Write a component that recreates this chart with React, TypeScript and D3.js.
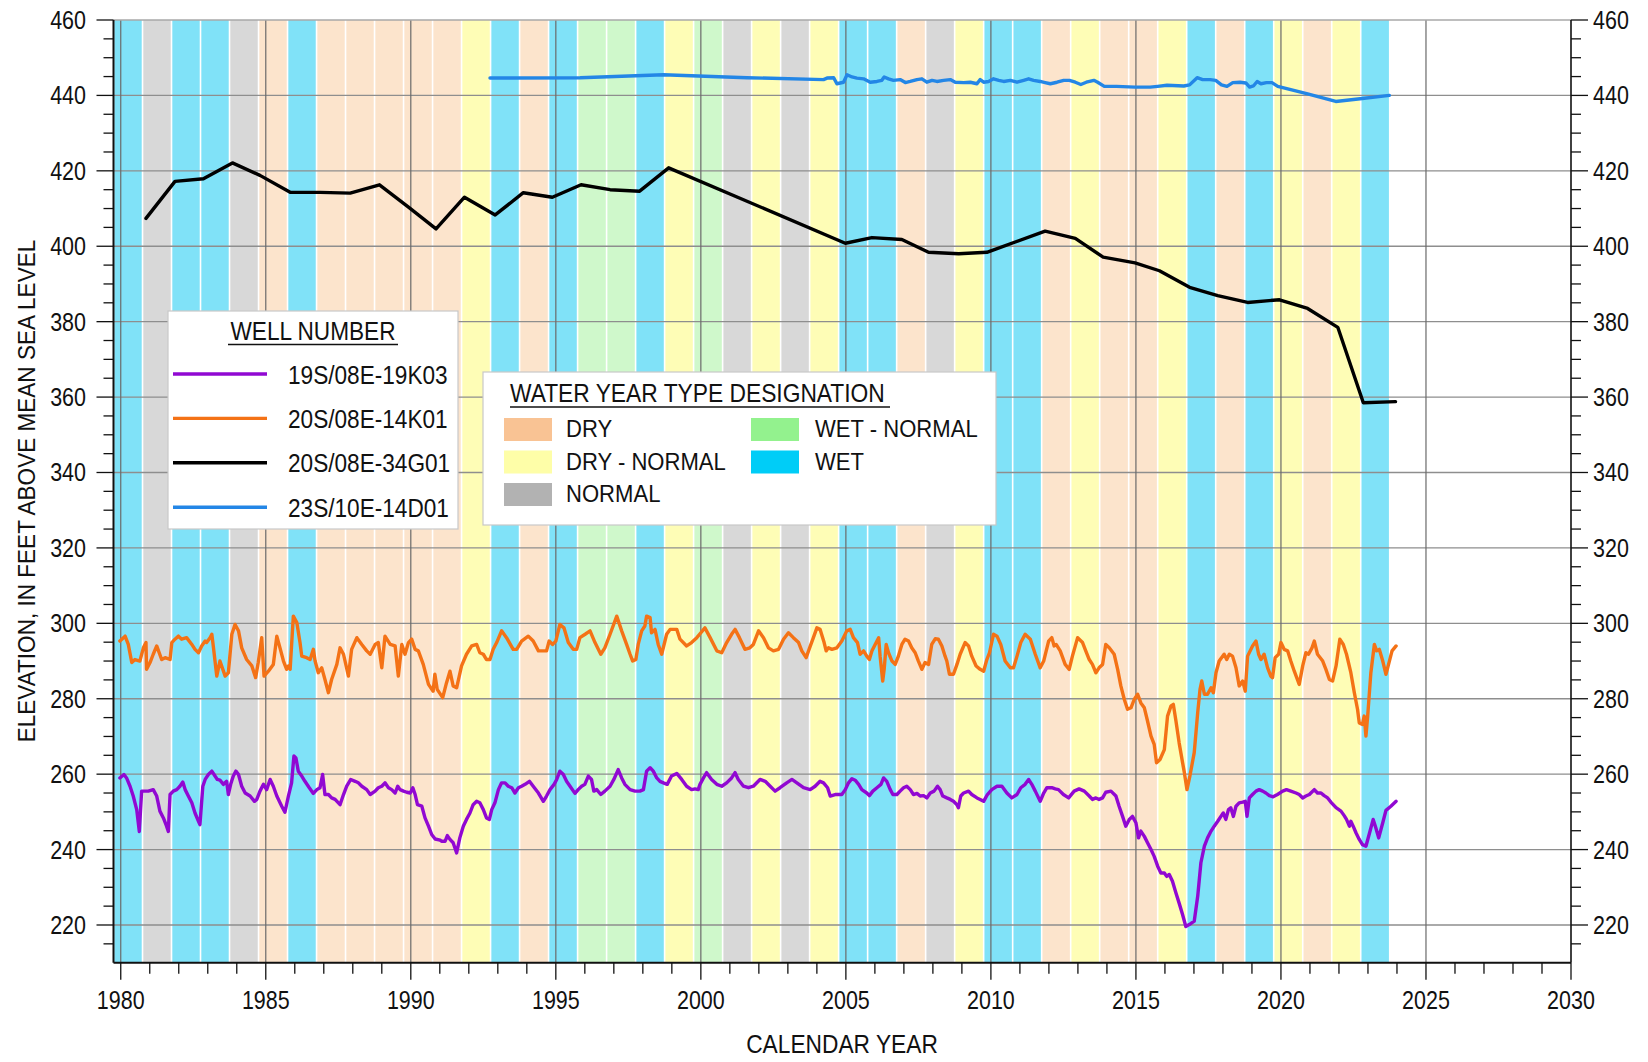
import React from "react";
import * as d3 from "d3";

// ---------- DATA ----------
const waterYears = d3.range(1980, 2024);
const waterYearTypes = [
  "W", "N", "W", "W", "N", "D", "W", "D", "D", "D", "D", "D", "DN", "W", "D", "W", "WN", "WN", "W", "DN",
  "WN", "N", "DN", "N", "DN", "W", "W", "D", "N", "DN", "W", "W", "D", "DN", "D", "D", "DN", "W", "D", "W",
  "DN", "D", "DN", "W",
];
const typeLabels: Record<string, string> = { D: "DRY", DN: "DRY - NORMAL", N: "NORMAL", WN: "WET - NORMAL", W: "WET" };
const bandColors: Record<string, string> = { W: "#80e2f8", N: "#d8d8d8", D: "#fce4cc", DN: "#fefdb6", WN: "#cff8cb" };
const swatchColors: Record<string, string> = { W: "#00cdf7", N: "#b2b2b2", D: "#f9c394", DN: "#fefea8", WN: "#93f28e" };

const well19K03: [number, number][] = [
  [1979.97, 259.0], [1980.11, 259.9], [1980.2, 259.0], [1980.32, 256.8], [1980.43, 254.2], [1980.55, 250.6], [1980.64, 244.8], [1980.72, 255.5], [1980.84, 255.5], [1980.95, 255.5],
  [1981.12, 255.9], [1981.24, 254.2], [1981.35, 250.2], [1981.47, 248.4], [1981.58, 246.2], [1981.64, 244.8], [1981.7, 254.6], [1981.81, 255.5], [1981.93, 255.9], [1982.04, 256.8],
  [1982.14, 257.9], [1982.22, 255.9], [1982.33, 254.2], [1982.45, 252.4], [1982.56, 249.7], [1982.68, 247.5], [1982.73, 246.6], [1982.83, 256.8], [1982.91, 258.6], [1983.02, 259.9],
  [1983.14, 260.8], [1983.25, 259.5], [1983.33, 258.6], [1983.42, 258.4], [1983.54, 257.3], [1983.65, 258.1], [1983.71, 254.6], [1983.79, 257.3], [1983.88, 259.5], [1983.97, 260.8],
  [1984.06, 259.9], [1984.17, 256.8], [1984.29, 255.0], [1984.46, 254.2], [1984.61, 252.8], [1984.69, 253.3], [1984.8, 255.5], [1984.92, 257.3], [1985.03, 255.9], [1985.15, 258.6],
  [1985.26, 256.8], [1985.38, 254.2], [1985.55, 251.5], [1985.66, 249.9], [1985.78, 254.2], [1985.89, 257.7], [1985.97, 264.8], [1986.04, 264.3], [1986.12, 260.8], [1986.24, 259.5],
  [1986.35, 258.1], [1986.5, 256.4], [1986.64, 254.9], [1986.76, 255.9], [1986.87, 256.4], [1986.96, 259.9], [1987.04, 254.6], [1987.16, 254.6], [1987.27, 253.7], [1987.39, 253.3],
  [1987.56, 251.9], [1987.68, 254.6], [1987.79, 256.8], [1987.93, 258.6], [1988.08, 258.1], [1988.19, 257.7], [1988.31, 256.8], [1988.48, 255.9], [1988.6, 254.6], [1988.77, 255.5],
  [1988.88, 256.4], [1989.0, 256.8], [1989.11, 257.7], [1989.23, 256.4], [1989.34, 255.9], [1989.46, 255.0], [1989.55, 256.8], [1989.63, 255.9], [1989.75, 255.5], [1989.86, 255.2],
  [1989.98, 255.0], [1990.07, 256.4], [1990.15, 254.6], [1990.23, 251.9], [1990.38, 251.5], [1990.49, 248.4], [1990.61, 246.2], [1990.72, 244.0], [1990.84, 242.8], [1991.01, 242.5],
  [1991.06, 242.2], [1991.18, 242.2], [1991.26, 243.7], [1991.35, 242.7], [1991.46, 241.8], [1991.58, 239.1], [1991.69, 243.1], [1991.81, 246.2], [1991.92, 248.0], [1992.04, 249.7],
  [1992.15, 251.9], [1992.27, 252.8], [1992.38, 252.4], [1992.5, 250.6], [1992.61, 248.4], [1992.71, 248.0], [1992.79, 250.6], [1992.9, 252.4], [1993.02, 255.9], [1993.13, 257.7],
  [1993.25, 257.7], [1993.36, 256.8], [1993.48, 256.4], [1993.59, 255.0], [1993.71, 256.4], [1993.82, 256.8], [1993.94, 257.3], [1994.09, 258.1], [1994.22, 256.8], [1994.4, 255.0],
  [1994.57, 252.8], [1994.68, 254.2], [1994.8, 255.9], [1994.94, 257.3], [1995.03, 258.6], [1995.14, 260.8], [1995.26, 259.9], [1995.37, 258.1], [1995.49, 256.8], [1995.66, 254.9],
  [1995.77, 255.9], [1995.89, 256.8], [1996.0, 257.3], [1996.12, 259.5], [1996.23, 258.6], [1996.31, 255.5], [1996.41, 255.9], [1996.55, 254.6], [1996.69, 255.5], [1996.87, 256.8],
  [1997.0, 258.6], [1997.15, 261.2], [1997.27, 259.0], [1997.38, 257.3], [1997.56, 255.9], [1997.73, 255.5], [1997.9, 255.5], [1998.02, 255.9], [1998.13, 260.8], [1998.25, 261.7],
  [1998.36, 260.8], [1998.48, 259.0], [1998.59, 258.1], [1998.71, 257.7], [1998.84, 257.3], [1998.99, 259.5], [1999.17, 260.2], [1999.34, 258.6], [1999.51, 256.8], [1999.68, 255.9],
  [1999.8, 256.1], [1999.91, 255.9], [1999.97, 257.3], [2000.09, 259.0], [2000.2, 260.4], [2000.37, 258.6], [2000.55, 257.3], [2000.72, 256.8], [2000.89, 257.7], [2001.06, 259.0],
  [2001.18, 260.4], [2001.29, 258.6], [2001.47, 256.8], [2001.64, 256.4], [2001.81, 256.8], [2002.04, 258.6], [2002.22, 258.1], [2002.39, 256.8], [2002.56, 255.5], [2002.73, 256.4],
  [2002.96, 257.7], [2003.14, 258.6], [2003.31, 257.7], [2003.54, 256.4], [2003.77, 255.9], [2003.94, 256.8], [2004.11, 258.1], [2004.23, 257.7], [2004.37, 256.4], [2004.46, 254.2],
  [2004.63, 254.6], [2004.75, 254.6], [2004.86, 254.6], [2004.98, 255.9], [2005.09, 257.7], [2005.21, 258.8], [2005.32, 258.4], [2005.44, 257.3], [2005.55, 255.9], [2005.72, 255.0],
  [2005.81, 254.3], [2005.93, 255.5], [2006.07, 256.4], [2006.21, 257.3], [2006.3, 259.0], [2006.41, 258.1], [2006.53, 255.9], [2006.62, 254.6], [2006.76, 254.6], [2006.87, 255.5],
  [2006.99, 256.4], [2007.1, 256.8], [2007.22, 255.9], [2007.33, 254.6], [2007.45, 254.9], [2007.56, 254.2], [2007.68, 254.3], [2007.79, 253.7], [2007.91, 255.0], [2008.04, 255.5],
  [2008.16, 256.8], [2008.25, 255.9], [2008.34, 254.2], [2008.48, 253.7], [2008.6, 253.3], [2008.71, 252.8], [2008.83, 251.9], [2008.88, 251.1], [2008.96, 254.2], [2009.06, 255.0],
  [2009.23, 255.5], [2009.34, 254.6], [2009.52, 253.7], [2009.63, 253.3], [2009.75, 252.8], [2009.88, 254.6], [2010.03, 255.9], [2010.21, 256.8], [2010.38, 256.8], [2010.55, 255.0],
  [2010.72, 253.7], [2010.9, 254.6], [2011.03, 256.4], [2011.18, 257.3], [2011.3, 258.6], [2011.41, 257.3], [2011.53, 255.5], [2011.7, 252.8], [2011.82, 255.0], [2011.93, 256.4],
  [2012.1, 256.4], [2012.22, 256.1], [2012.33, 255.9], [2012.5, 254.6], [2012.68, 253.7], [2012.87, 255.5], [2013.04, 256.1], [2013.22, 255.5], [2013.39, 254.2], [2013.5, 253.3],
  [2013.62, 253.7], [2013.73, 253.3], [2013.85, 253.7], [2013.96, 255.2], [2014.14, 255.5], [2014.31, 254.2], [2014.42, 251.5], [2014.54, 248.8], [2014.65, 246.2], [2014.77, 248.0],
  [2014.88, 248.8], [2015.0, 247.1], [2015.09, 243.1], [2015.17, 244.9], [2015.29, 243.5], [2015.4, 241.8], [2015.52, 240.0], [2015.63, 238.2], [2015.75, 235.6], [2015.86, 233.8],
  [2015.98, 233.8], [2016.06, 232.9], [2016.15, 233.4], [2016.26, 231.6], [2016.38, 228.5], [2016.49, 225.8], [2016.61, 222.7], [2016.72, 219.6], [2016.84, 220.1], [2017.01, 221.0],
  [2017.13, 227.6], [2017.24, 236.5], [2017.36, 240.9], [2017.47, 243.1], [2017.59, 244.9], [2017.7, 246.2], [2017.82, 247.5], [2017.93, 248.8], [2018.01, 249.7], [2018.1, 248.0],
  [2018.19, 250.6], [2018.27, 251.1], [2018.36, 248.8], [2018.45, 251.5], [2018.56, 252.4], [2018.68, 252.6], [2018.77, 252.8], [2018.83, 248.8], [2018.91, 253.7], [2019.02, 254.6],
  [2019.14, 255.5], [2019.25, 255.9], [2019.37, 255.5], [2019.48, 255.0], [2019.6, 254.3], [2019.73, 254.0], [2019.88, 254.6], [2020.06, 255.5], [2020.19, 255.9], [2020.34, 255.5],
  [2020.52, 255.0], [2020.63, 254.6], [2020.75, 253.7], [2020.86, 254.2], [2020.98, 254.6], [2021.15, 255.9], [2021.26, 255.0], [2021.38, 255.0], [2021.49, 254.3], [2021.61, 253.7],
  [2021.72, 252.6], [2021.9, 251.1], [2022.07, 250.2], [2022.18, 249.0], [2022.26, 248.0], [2022.36, 246.2], [2022.41, 247.5], [2022.49, 246.2], [2022.59, 244.4], [2022.7, 242.7],
  [2022.81, 241.3], [2022.93, 240.9], [2023.04, 244.0], [2023.18, 248.0], [2023.27, 245.8], [2023.37, 243.1], [2023.51, 247.1], [2023.62, 250.4], [2023.79, 251.5], [2023.97, 252.8],
];

const well14K01: [number, number][] = [
  [1979.97, 295.3], [1980.15, 296.6], [1980.26, 294.4], [1980.38, 289.6], [1980.49, 290.4], [1980.66, 290.0], [1980.78, 293.5], [1980.87, 294.9], [1980.89, 287.8], [1981.01, 289.6],
  [1981.12, 291.8], [1981.24, 294.0], [1981.41, 290.4], [1981.53, 290.9], [1981.7, 290.4], [1981.76, 294.9], [1981.87, 295.8], [1981.99, 296.6], [1982.1, 295.8], [1982.27, 296.2],
  [1982.45, 294.4], [1982.56, 293.1], [1982.68, 292.2], [1982.79, 294.0], [1982.91, 295.3], [1982.96, 294.9], [1983.08, 296.2], [1983.14, 297.1], [1983.19, 294.0], [1983.31, 286.0],
  [1983.42, 290.0], [1983.6, 286.0], [1983.71, 286.9], [1983.83, 297.1], [1983.94, 299.7], [1984.06, 298.0], [1984.17, 293.5], [1984.34, 290.4], [1984.52, 288.7], [1984.65, 285.6],
  [1984.74, 289.6], [1984.86, 296.2], [1984.94, 286.0], [1985.09, 287.3], [1985.26, 289.1], [1985.38, 296.6], [1985.49, 293.5], [1985.61, 290.0], [1985.72, 287.8], [1985.78, 288.7],
  [1985.84, 287.8], [1985.95, 301.9], [1986.07, 300.2], [1986.18, 294.9], [1986.24, 291.3], [1986.41, 290.9], [1986.53, 290.4], [1986.64, 293.1], [1986.7, 290.0], [1986.81, 286.9],
  [1986.93, 288.2], [1987.04, 285.1], [1987.16, 281.6], [1987.27, 285.1], [1987.45, 289.1], [1987.56, 293.5], [1987.68, 291.8], [1987.85, 286.0], [1987.96, 293.1], [1988.14, 296.2],
  [1988.31, 294.4], [1988.48, 292.7], [1988.6, 291.8], [1988.77, 294.4], [1988.88, 294.9], [1989.0, 288.2], [1989.11, 296.6], [1989.29, 294.4], [1989.46, 294.0], [1989.57, 286.0],
  [1989.69, 294.4], [1989.8, 291.8], [1989.92, 294.9], [1990.03, 295.8], [1990.15, 293.1], [1990.26, 292.7], [1990.43, 289.1], [1990.61, 283.8], [1990.77, 282.0], [1990.83, 286.5],
  [1990.91, 282.5], [1991.1, 280.3], [1991.23, 284.2], [1991.35, 287.3], [1991.46, 283.4], [1991.58, 282.9], [1991.75, 288.7], [1991.92, 291.8], [1992.1, 294.0], [1992.27, 294.4],
  [1992.38, 292.2], [1992.5, 291.8], [1992.61, 290.4], [1992.73, 290.4], [1992.84, 293.1], [1992.96, 294.9], [1993.13, 298.0], [1993.3, 296.2], [1993.53, 293.1], [1993.65, 293.1],
  [1993.82, 295.3], [1994.05, 296.6], [1994.22, 295.3], [1994.4, 292.7], [1994.57, 292.7], [1994.68, 292.7], [1994.77, 295.3], [1994.89, 294.4], [1995.0, 295.3], [1995.14, 299.7],
  [1995.28, 298.8], [1995.43, 294.9], [1995.6, 293.1], [1995.72, 293.1], [1995.83, 296.2], [1996.01, 297.1], [1996.18, 298.0], [1996.35, 294.9], [1996.55, 291.8], [1996.69, 293.5],
  [1996.87, 297.1], [1997.1, 301.9], [1997.27, 298.0], [1997.44, 294.4], [1997.56, 291.8], [1997.65, 290.0], [1997.76, 290.4], [1997.84, 294.4], [1997.96, 298.0], [1998.07, 299.3],
  [1998.13, 301.9], [1998.25, 301.5], [1998.3, 297.5], [1998.42, 298.4], [1998.53, 294.4], [1998.65, 291.8], [1998.82, 297.1], [1998.94, 298.4], [1999.17, 298.4], [1999.28, 295.8],
  [1999.51, 294.0], [1999.68, 294.9], [1999.86, 296.2], [2000.0, 297.5], [2000.14, 298.8], [2000.32, 296.2], [2000.55, 292.7], [2000.72, 292.2], [2000.89, 294.9], [2001.06, 297.1],
  [2001.18, 298.4], [2001.33, 296.2], [2001.52, 293.1], [2001.69, 293.5], [2001.81, 294.4], [2001.99, 298.0], [2002.16, 296.2], [2002.33, 293.5], [2002.5, 292.7], [2002.68, 293.1],
  [2002.85, 295.8], [2003.02, 297.5], [2003.19, 296.2], [2003.37, 294.9], [2003.48, 292.7], [2003.63, 290.9], [2003.75, 293.5], [2003.88, 296.2], [2004.0, 298.8], [2004.11, 298.4],
  [2004.25, 294.9], [2004.32, 292.7], [2004.4, 293.5], [2004.52, 293.1], [2004.69, 293.5], [2004.86, 295.3], [2005.03, 298.0], [2005.15, 298.4], [2005.26, 296.2], [2005.4, 294.9],
  [2005.49, 291.8], [2005.61, 292.7], [2005.72, 291.3], [2005.81, 290.4], [2005.9, 292.7], [2006.01, 294.4], [2006.13, 296.2], [2006.18, 291.3], [2006.27, 284.7], [2006.32, 287.8],
  [2006.39, 294.4], [2006.47, 292.2], [2006.59, 290.0], [2006.7, 289.1], [2006.81, 291.3], [2006.93, 294.4], [2007.04, 295.8], [2007.16, 295.3], [2007.27, 293.5], [2007.39, 292.2],
  [2007.5, 290.0], [2007.62, 287.8], [2007.73, 289.6], [2007.85, 289.1], [2007.96, 294.4], [2008.08, 295.9], [2008.19, 295.8], [2008.31, 294.0], [2008.42, 291.3], [2008.48, 290.0],
  [2008.57, 286.5], [2008.71, 286.5], [2008.83, 289.1], [2008.94, 291.8], [2009.11, 294.9], [2009.23, 294.0], [2009.34, 291.3], [2009.49, 288.7], [2009.63, 287.8], [2009.75, 287.3],
  [2009.86, 290.4], [2009.95, 292.2], [2010.09, 297.1], [2010.21, 296.6], [2010.34, 294.4], [2010.49, 290.0], [2010.67, 288.2], [2010.78, 288.2], [2010.9, 291.3], [2011.03, 294.9],
  [2011.18, 297.1], [2011.36, 295.8], [2011.53, 291.8], [2011.7, 288.2], [2011.82, 290.0], [2011.99, 295.3], [2012.1, 296.2], [2012.18, 294.0], [2012.25, 294.4], [2012.39, 292.7],
  [2012.56, 289.1], [2012.7, 287.8], [2012.81, 291.3], [2012.99, 296.2], [2013.16, 294.9], [2013.27, 292.7], [2013.39, 290.4], [2013.5, 289.1], [2013.62, 286.9], [2013.73, 288.2],
  [2013.85, 289.1], [2013.96, 294.4], [2014.08, 293.5], [2014.25, 291.8], [2014.37, 287.8], [2014.48, 283.4], [2014.6, 279.8], [2014.71, 277.2], [2014.83, 277.6], [2014.94, 279.8],
  [2015.06, 281.2], [2015.17, 278.9], [2015.29, 277.6], [2015.4, 274.1], [2015.52, 270.1], [2015.63, 267.9], [2015.71, 263.0], [2015.83, 263.9], [2015.98, 266.5], [2016.09, 275.4],
  [2016.21, 278.1], [2016.29, 278.5], [2016.38, 274.1], [2016.49, 268.3], [2016.61, 263.0], [2016.67, 260.4], [2016.76, 255.9], [2016.86, 259.5], [2017.01, 265.7], [2017.13, 276.3],
  [2017.21, 282.5], [2017.27, 284.7], [2017.36, 281.2], [2017.47, 281.2], [2017.59, 282.9], [2017.67, 281.6], [2017.76, 286.9], [2017.87, 290.0], [2018.04, 291.8], [2018.13, 290.4],
  [2018.22, 291.8], [2018.33, 291.3], [2018.45, 288.2], [2018.56, 283.4], [2018.68, 284.7], [2018.77, 282.0], [2018.85, 291.3], [2019.02, 294.0], [2019.14, 295.3], [2019.23, 291.8],
  [2019.31, 290.4], [2019.42, 291.8], [2019.54, 288.2], [2019.65, 286.0], [2019.71, 285.6], [2019.8, 290.9], [2019.92, 291.8], [2020.0, 294.9], [2020.11, 293.1], [2020.23, 292.7],
  [2020.34, 290.0], [2020.46, 287.3], [2020.63, 283.8], [2020.75, 288.7], [2020.86, 292.2], [2020.95, 291.8], [2021.07, 293.5], [2021.15, 295.3], [2021.26, 291.8], [2021.44, 290.0],
  [2021.55, 287.8], [2021.67, 285.1], [2021.78, 284.7], [2021.9, 288.7], [2022.03, 295.8], [2022.15, 294.4], [2022.26, 291.8], [2022.41, 286.9], [2022.53, 281.6], [2022.64, 277.2],
  [2022.7, 273.6], [2022.81, 273.2], [2022.87, 275.4], [2022.93, 270.1], [2022.99, 275.4], [2023.1, 286.9], [2023.22, 294.4], [2023.3, 292.7], [2023.39, 293.1], [2023.51, 290.0],
  [2023.62, 286.5], [2023.71, 289.1], [2023.83, 292.7], [2023.97, 294.0],
];

const well34G01: [number, number][] = [
  [1980.87, 407.4], [1981.87, 417.2], [1982.85, 417.9], [1983.85, 422.1], [1984.8, 418.8], [1985.84, 414.3], [1986.87, 414.3], [1987.91, 414.1], [1988.92, 416.3], [1989.92, 410.4],
  [1990.87, 404.6], [1991.85, 413.0], [1992.91, 408.3], [1993.88, 414.2], [1994.88, 413.0], [1995.87, 416.3], [1996.87, 415.0], [1997.89, 414.6], [1998.89, 420.8], [2004.98, 400.8],
  [2005.9, 402.3], [2006.93, 401.8], [2007.85, 398.4], [2008.89, 398.0], [2009.86, 398.4], [2011.87, 404.0], [2012.91, 402.1], [2013.87, 397.1], [2014.97, 395.6], [2015.81, 393.5],
  [2016.85, 389.1], [2017.82, 386.9], [2018.85, 385.1], [2019.95, 385.8], [2020.92, 383.5], [2021.96, 378.5], [2022.84, 358.5], [2023.95, 358.8],
];

const well14D01: [number, number][] = [
  [1992.73, 444.6], [1995.84, 444.7], [1998.71, 445.5], [2001.59, 444.7], [2004.23, 444.2], [2004.35, 444.6], [2004.58, 444.7], [2004.69, 443.1], [2004.92, 443.5], [2005.04, 445.5],
  [2005.21, 444.9], [2005.38, 444.6], [2005.61, 444.4], [2005.84, 443.5], [2006.07, 443.7], [2006.24, 444.0], [2006.32, 444.9], [2006.47, 444.4], [2006.64, 444.0], [2006.87, 444.2],
  [2007.05, 443.4], [2007.22, 443.7], [2007.45, 444.2], [2007.62, 444.4], [2007.79, 443.5], [2007.97, 444.0], [2008.14, 443.7], [2008.37, 444.0], [2008.6, 444.2], [2008.77, 443.5],
  [2009.06, 443.4], [2009.29, 443.5], [2009.52, 443.1], [2009.63, 444.2], [2009.75, 443.5], [2009.92, 443.7], [2010.09, 444.4], [2010.27, 444.0], [2010.44, 443.7], [2010.67, 444.0],
  [2010.9, 443.5], [2011.13, 444.0], [2011.3, 444.4], [2011.47, 444.0], [2011.7, 443.7], [2011.87, 443.4], [2012.05, 443.1], [2012.28, 443.5], [2012.51, 444.0], [2012.71, 444.0],
  [2012.91, 443.5], [2013.1, 442.9], [2013.29, 443.5], [2013.55, 444.0], [2013.68, 443.5], [2013.91, 442.4], [2014.33, 442.4], [2014.97, 442.2], [2015.49, 442.2], [2015.75, 442.4],
  [2016.07, 442.7], [2016.65, 442.5], [2016.85, 442.8], [2017.11, 444.7], [2017.3, 444.2], [2017.56, 444.2], [2017.75, 444.0], [2017.95, 442.8], [2018.14, 442.4], [2018.34, 443.4],
  [2018.59, 443.5], [2018.79, 443.3], [2018.92, 442.2], [2019.05, 442.5], [2019.18, 443.7], [2019.31, 443.1], [2019.5, 443.4], [2019.69, 443.4], [2019.89, 442.4], [2020.92, 440.4],
  [2021.89, 438.4], [2022.73, 439.1], [2023.74, 440.0],
];

const wellNames = ["19S/08E-19K03", "20S/08E-14K01", "20S/08E-34G01", "23S/10E-14D01"];
const wellColors = ["#9108d2", "#f47216", "#000000", "#2386e6"];
const wellData = [well19K03, well14K01, well34G01, well14D01];

const xTickYears = d3.range(1980, 2031, 5);
const yTickValues = d3.range(220, 461, 20);

// ---------- LAYOUT ----------
const W = 1648, H = 1062;
const L = 113.5, R = 1571, T = 20, B = 962.7;
const FONT = "'Liberation Sans', Arial, sans-serif";

function Txt(props: { x: number; y: number; size: number; sx?: number; anchor?: string; rot?: number; children: React.ReactNode; fill?: string }) {
  const { x, y, size, sx = 0.88, anchor = "start", rot = 0, children, fill = "#111" } = props;
  return (
    <text transform={`translate(${x},${y}) rotate(${rot}) scale(${sx},1)`} fontSize={size} fontFamily={FONT} textAnchor={anchor} fill={fill}>
      {children}
    </text>
  );
}

export default function App() {
  const x = d3.scaleLinear().domain([1979.75, 2030]).range([L, R]);
  const y = d3.scaleLinear().domain([210, 460]).range([B, T]);
  const line = d3.line<[number, number]>().x((d) => x(d[0])).y((d) => y(d[1]));

  const minorY = d3.range(215, 461, 5);
  const minorX = d3.range(1980, 2031, 1);

  const wyLegendRows: [string, number, number][] = [
    ["D", 0, 0], ["DN", 0, 1], ["N", 0, 2], ["WN", 1, 0], ["W", 1, 1],
  ];

  return (
    <svg width={W} height={H} style={{ position: "absolute", left: 0, top: 0, background: "#fff" }}>
      {/* water year bands */}
      {waterYears.map((wy, i) => (
        <rect key={wy} x={x(wy - 0.25) + 0.8} y={T} width={x(wy + 0.75) - x(wy - 0.25) - 1.6} height={B - T} fill={bandColors[waterYearTypes[i]]} />
      ))}
      {/* grid */}
      {yTickValues.filter((v) => v < 460).map((v) => (
        <line key={"gy" + v} x1={L} x2={R} y1={y(v)} y2={y(v)} stroke="#8e8e8e" strokeWidth={1.4} />
      ))}
      {xTickYears.filter((v) => v < 2030).map((v) => (
        <line key={"gx" + v} x1={x(v)} x2={x(v)} y1={T} y2={B} stroke="#6a6a6a" strokeWidth={1.2} />
      ))}
      <line x1={L} x2={R} y1={T} y2={T} stroke="#a8a8a8" strokeWidth={1.6} />

      {/* data lines */}
      {wellData.map((d, i) => (
        <path key={wellNames[i]} d={line(d) || ""} fill="none" stroke={wellColors[i]} strokeWidth={3.4} strokeLinejoin="round" strokeLinecap="round" />
      ))}

      {/* axes */}
      <line x1={L} x2={L} y1={T} y2={B} stroke="#111" strokeWidth={2} />
      <line x1={R} x2={R} y1={T} y2={B} stroke="#111" strokeWidth={1.6} />
      <line x1={L} x2={R} y1={B} y2={B} stroke="#111" strokeWidth={2} />
      {minorY.map((v) => {
        const major = v % 20 === 0;
        const len = major ? 17 : 10;
        return (
          <g key={"ty" + v}>
            <line x1={L - len} x2={L} y1={y(v)} y2={y(v)} stroke="#111" strokeWidth={1.3} />
            <line x1={R} x2={R + len} y1={y(v)} y2={y(v)} stroke="#111" strokeWidth={1.3} />
          </g>
        );
      })}
      {minorX.map((v) => {
        const major = v % 5 === 0;
        return <line key={"tx" + v} x1={x(v)} x2={x(v)} y1={B} y2={B + (major ? 17 : 11)} stroke="#111" strokeWidth={1.3} />;
      })}
      {yTickValues.map((v) => (
        <g key={"ly" + v}>
          <Txt x={86} y={y(v) + 9} size={25} sx={0.86} anchor="end">{v}</Txt>
          <Txt x={1593} y={y(v) + 9} size={25} sx={0.86}>{v}</Txt>
        </g>
      ))}
      {xTickYears.map((v) => (
        <Txt key={"lx" + v} x={x(v)} y={1009} size={25} sx={0.86} anchor="middle">{v}</Txt>
      ))}
      <Txt x={842} y={1053} size={25} sx={0.91} anchor="middle">CALENDAR YEAR</Txt>
      <Txt x={35} y={491} size={24} sx={0.94} anchor="middle" rot={-90}>ELEVATION, IN FEET ABOVE MEAN SEA LEVEL</Txt>

      {/* well legend */}
      <rect x={168} y={311} width={290} height={218} fill="#fff" stroke="#c8c8c8" strokeWidth={1.2} />
      <Txt x={313} y={340} size={26} sx={0.87} anchor="middle">WELL NUMBER</Txt>
      <line x1={228} x2={398} y1={344.5} y2={344.5} stroke="#111" strokeWidth={1.6} />
      {wellNames.map((n, i) => {
        const ly = 374 + i * 44.4;
        return (
          <g key={"lg" + n}>
            <line x1={173} x2={267} y1={ly} y2={ly} stroke={wellColors[i]} strokeWidth={3.4} />
            <Txt x={288} y={ly + 9.5} size={26} sx={0.87}>{n}</Txt>
          </g>
        );
      })}

      {/* water year legend */}
      <rect x={483} y={372} width={513} height={153} fill="#fff" stroke="#c8c8c8" strokeWidth={1.2} />
      <Txt x={510} y={402} size={26} sx={0.877}>WATER YEAR TYPE DESIGNATION</Txt>
      <line x1={510} x2={890} y1={407} y2={407} stroke="#111" strokeWidth={1.6} />
      {wyLegendRows.map(([k, col, row]) => {
        const sx0 = col === 0 ? 504 : 751;
        const tx = col === 0 ? 566 : 815;
        const ry = 418 + row * 32.5;
        return (
          <g key={"wl" + k}>
            <rect x={sx0} y={ry} width={48} height={23} fill={swatchColors[k]} />
            <Txt x={tx} y={ry + 19} size={24} sx={0.92}>{typeLabels[k]}</Txt>
          </g>
        );
      })}
    </svg>
  );
}
